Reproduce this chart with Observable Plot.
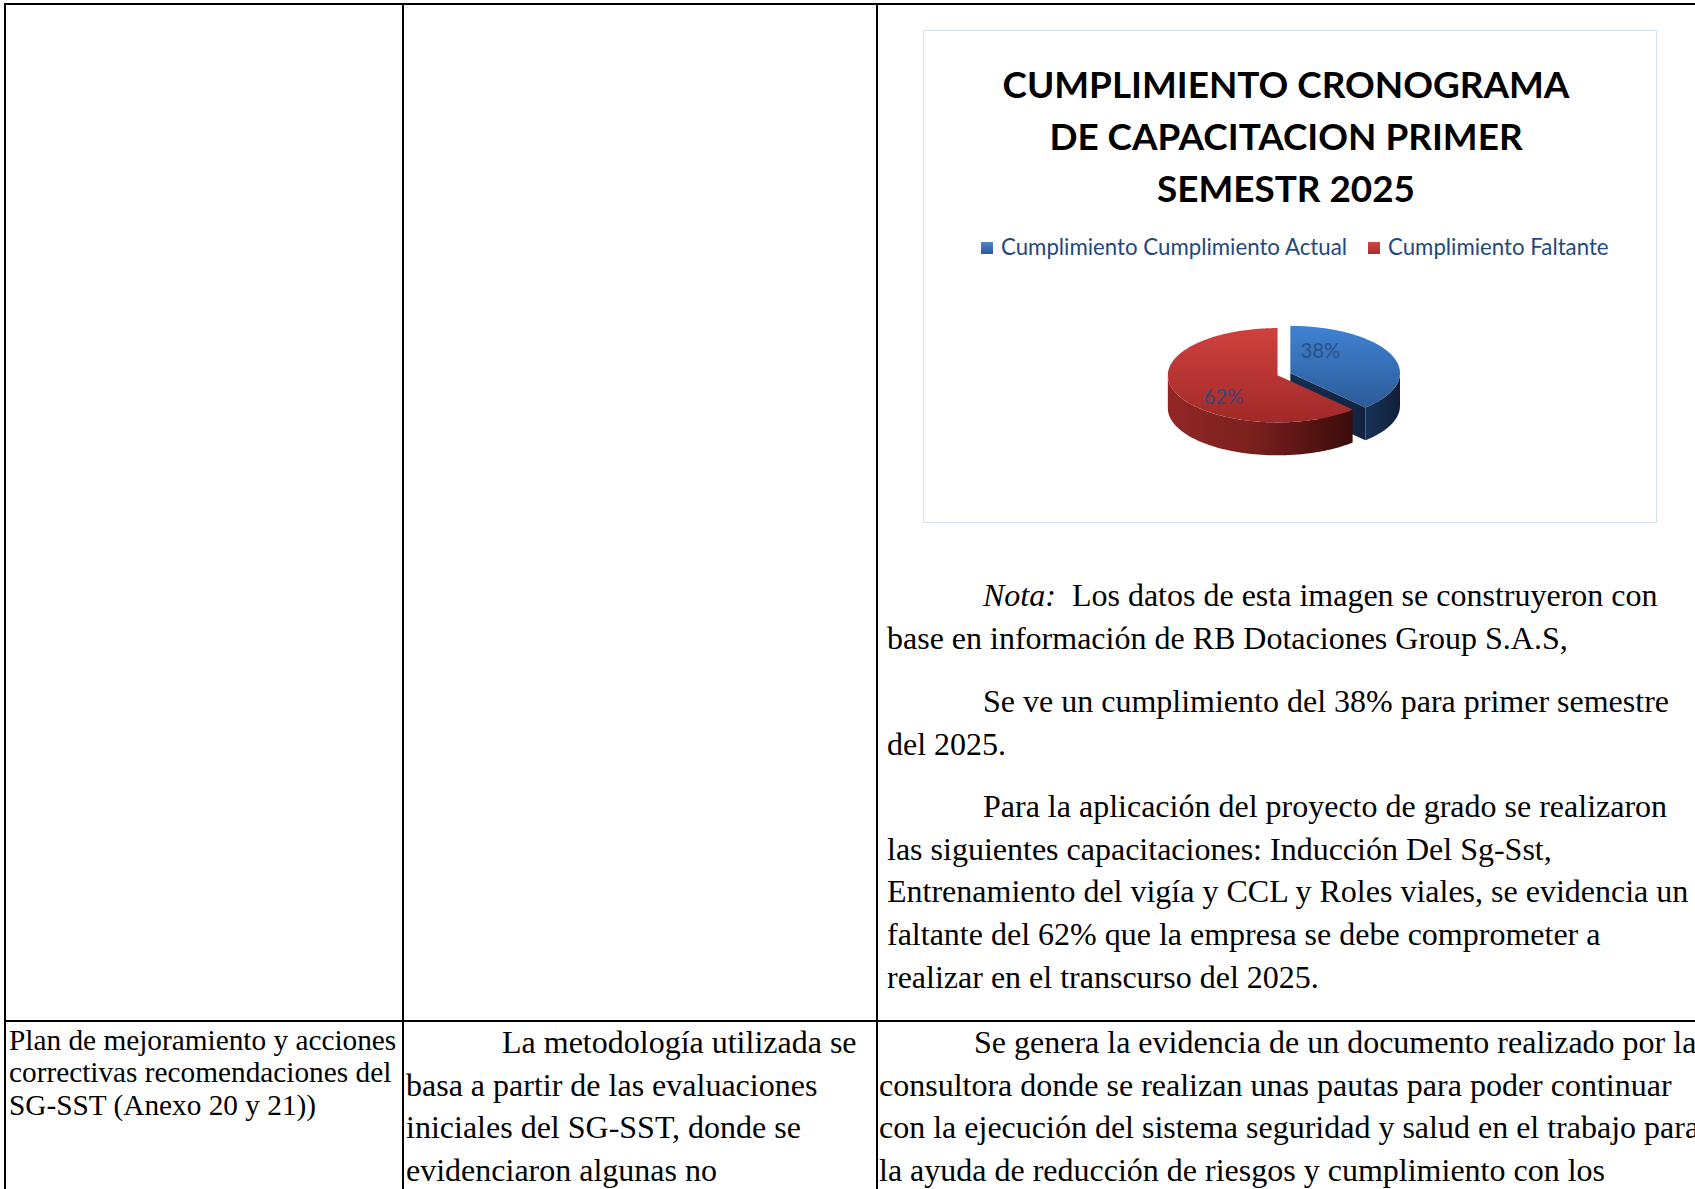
<!DOCTYPE html>
<html>
<head>
<meta charset="utf-8">
<script src="https://cdn.jsdelivr.net/npm/d3@7"></script>
<script src="https://cdn.jsdelivr.net/npm/@observablehq/plot@0.6"></script>
<style>
  html, body { margin: 0; padding: 0; background: #fff; }
  body { width: 1695px; height: 1189px; position: relative; overflow: hidden; }
  .rule { position: absolute; background: #000; }
  .txt { position: absolute; white-space: nowrap; font-family: "Liberation Serif", "Times New Roman", serif; color: #000; }
  #chartbox { position: absolute; left: 923px; top: 30px; width: 732px; height: 491px; border: 1.5px solid #d3e1f2; }
  #title { position: absolute; left: 0; width: 100%; text-align: center; font-family: Lato, sans-serif; font-weight: 700; color: #000; }
  .tline { white-space: nowrap; }
  .leg { position: absolute; white-space: nowrap; font-family: Lato, sans-serif; color: #1f497d; }
  .sw { position: absolute; width: 12px; height: 12px; }
  #pie { position: absolute; }
</style>
</head>
<body>
<div id="page"></div>
<script>
// ---------------- chart data ----------------
const titleLines = ["CUMPLIMIENTO CRONOGRAMA", "DE CAPACITACION PRIMER", "SEMESTR 2025"];
const categories = ["Cumplimiento Cumplimiento Actual", "Cumplimiento Faltante"];
const values = [38, 62];
const valueLabels = ["38%", "62%"];
const explodeBy = [0.125, 0];
const swatchCss = [
  "linear-gradient(#4f86cc, #2c5a94)",
  "linear-gradient(#d24a47, #a12f2c)"
];

// ---------------- document text ----------------
const rightTopParas = [
  ["<i>Nota:</i>&nbsp; Los datos de esta imagen se construyeron con", "base en información de RB Dotaciones Group S.A.S,"],
  ["Se ve un cumplimiento del 38% para primer semestre", "del 2025."],
  ["Para la aplicación del proyecto de grado se realizaron", "las siguientes capacitaciones: Inducción Del Sg-Sst,",
   "Entrenamiento del vigía y CCL y Roles viales, se evidencia un", "faltante del 62% que la empresa se debe comprometer a",
   "realizar en el transcurso del 2025."]
];
const leftBottom = ["Plan de mejoramiento y acciones", "correctivas recomendaciones del", "SG-SST (Anexo 20 y 21))"];
const midBottom = ["La metodología utilizada se", "basa a partir de las evaluaciones", "iniciales del SG-SST, donde se", "evidenciaron algunas no"];
const rightBottom = ["Se genera la evidencia de un documento realizado por la", "consultora donde se realizan unas pautas para poder continuar",
  "con la ejecución del sistema seguridad y salud en el trabajo para", "la ayuda de reducción de riesgos y cumplimiento con los"];

const page = document.getElementById("page");

// table rules
function rule(l, t, w, h) {
  const d = document.createElement("div");
  d.className = "rule";
  Object.assign(d.style, {left: l + "px", top: t + "px", width: w + "px", height: h + "px"});
  page.appendChild(d);
}
rule(4, 3, 1700, 2);
rule(4, 3, 2, 1200);
rule(402, 3, 2, 1200);
rule(876, 3, 2, 1200);
rule(4, 1020, 1700, 2);

// text blocks
function block(lines, left, indent, top, lh, fs) {
  lines.forEach((s, i) => {
    const d = document.createElement("div");
    d.className = "txt";
    d.innerHTML = s;
    Object.assign(d.style, {
      left: (left + (i === 0 ? indent : 0)) + "px",
      top: (top + i * lh) + "px",
      fontSize: fs + "px",
      lineHeight: lh + "px"
    });
    page.appendChild(d);
  });
}
const LH = 42.7, FS = 32;
block(rightTopParas[0], 887, 96, 574, LH, FS);
block(rightTopParas[1], 887, 96, 680, LH, FS);
block(rightTopParas[2], 887, 96, 785, LH, FS);
block(leftBottom, 9, 0, 1024, 32.4, 29.3);
block(midBottom, 406, 96, 1021, LH, FS);
block(rightBottom, 879, 95, 1021, LH, FS);

// ---------------- chart box ----------------
const box = document.createElement("div");
box.id = "chartbox";
page.appendChild(box);
const BX = 923, BY = 30; // box origin on page

function fitSize(text, family, weight, target) {
  const ctx = document.createElement("canvas").getContext("2d");
  ctx.font = `${weight} 100px ${family}`;
  return 100 * target / ctx.measureText(text).width;
}

// title
const tfs = fitSize(titleLines[0], "Lato", 700, 567);
const title = document.createElement("div");
title.id = "title";
title.style.fontSize = tfs + "px";
title.style.lineHeight = "52px";
title.style.top = (84 - 27 - BY) + "px";
title.style.left = "-4px";
title.innerHTML = titleLines.map(s => `<div class="tline">${s}</div>`).join("");
box.appendChild(title);

// legend
const lfs = fitSize(categories[0], "Lato", 400, 347);
const legX = [[980, 1000], [1367, 1387]];
categories.forEach((c, i) => {
  const sw = document.createElement("div");
  sw.className = "sw";
  sw.style.left = (legX[i][0] - BX) + "px";
  sw.style.top = (247 - 6 - BY) + "px";
  sw.style.background = swatchCss[i];
  box.appendChild(sw);
  const t = document.createElement("div");
  t.className = "leg";
  t.textContent = c;
  t.style.fontSize = lfs + "px";
  t.style.lineHeight = "24px";
  t.style.left = (legX[i][1] - BX) + "px";
  t.style.top = (247 - 13 - BY) + "px";
  box.appendChild(t);
});

// ---------------- 3D pie with Plot ----------------
const W = 734, H = 240;         // svg size
const svgTop = 275;             // page y of svg
const R = 110;                  // pixels per pie radius unit
const cxPx = 1277 - BX, cyPx = 374 - svgTop;
const tilt = 0.43, depth = 0.3;

const arcs = d3.pie().sort(null)(values);
const polys = [];
const fillIds = [["top0", "side0", "face0"], ["top1", "side1", "face1"]];
function pt(a, th, r, z) {
  const m = (a.startAngle + a.endAngle) / 2;
  const e = explodeBy[a.index];
  const u = e * Math.sin(m) + r * Math.sin(th);
  const v = e * Math.cos(m) + r * Math.cos(th);
  return {x: u, y: -v * tilt + z * depth};
}
function arcPts(a, t0, t1, z) {
  const n = Math.max(2, Math.ceil((t1 - t0) / 0.02));
  return d3.range(n + 1).map(k => pt(a, t0 + (t1 - t0) * k / n, 1, z));
}
let pid = 0;
function addPoly(pts, fill, layer) {
  const id = pid++;
  const meanY = d3.mean(pts, p => p.y);
  polys.push({id, fill, layer, meanY, pts});
}
arcs.forEach((a, i) => {
  const [topF, sideF, faceF] = fillIds[i];
  // top face
  addPoly([pt(a, 0, 0, 0), ...arcPts(a, a.startAngle, a.endAngle, 0)], `url(#${topF})`, 1);
  // outer side (front half only)
  const s0 = Math.max(a.startAngle, Math.PI / 2), s1 = Math.min(a.endAngle, 3 * Math.PI / 2);
  if (s1 > s0) {
    addPoly([...arcPts(a, s0, s1, 0), ...arcPts(a, s0, s1, 1).reverse()], `url(#${sideF})`, 0);
  }
  // radial faces facing the viewer
  if (Math.sin(a.endAngle) > 1e-6) {
    const t = a.endAngle;
    addPoly([pt(a, 0, 0, 0), pt(a, t, 1, 0), pt(a, t, 1, 1), pt(a, 0, 0, 1)], `url(#${faceF})`, 0);
  }
  if (Math.sin(a.startAngle) < -1e-6) {
    const t = a.startAngle;
    addPoly([pt(a, 0, 0, 0), pt(a, t, 1, 0), pt(a, t, 1, 1), pt(a, 0, 0, 1)], `url(#${faceF})`, 0);
  }
});
polys.sort((p, q) => p.layer - q.layer || p.meanY - q.meanY);
const polyRows = polys.flatMap(p => p.pts.map(q => ({id: p.id, fill: p.fill, x: q.x, y: q.y})));

const labelRows = arcs.map(a => {
  const th = (a.startAngle + a.endAngle) / 2 - 0.5;
  const p = pt(a, th, 0.6, 0);
  return {x: p.x, y: p.y, label: valueLabels[a.index]};
});
const labFs = fitSize("38%", "Lato", 400, 40);

const xDom = [-cxPx / R, (W - cxPx) / R];
const yDom = [-cyPx / R, (H - cyPx) / R];

const chart = Plot.plot({
  width: W, height: H,
  margin: 0,
  x: {domain: xDom, range: [0, W], axis: null},
  y: {domain: yDom, range: [0, H], axis: null},
  color: {type: "identity"},
  style: {background: "transparent", overflow: "visible"},
  marks: [
    Plot.line(polyRows, {x: "x", y: "y", z: "id", fill: "fill", stroke: "none", curve: "linear"}),
    Plot.text(labelRows, {x: "x", y: "y", text: "label", fill: "#2b4d80", fillOpacity: 0.92, fontSize: labFs, fontFamily: "Lato", dx: -12})
  ]
});

// gradients
const defs = `
<defs>
  <linearGradient id="top0" x1="0" y1="0" x2="0" y2="1">
    <stop offset="0" stop-color="#3f82d2"/><stop offset="1" stop-color="#2c5b98"/>
  </linearGradient>
  <linearGradient id="top1" x1="0" y1="0" x2="0" y2="1">
    <stop offset="0" stop-color="#d0413f"/><stop offset="1" stop-color="#a02a28"/>
  </linearGradient>
  <linearGradient id="side0" x1="0" y1="0" x2="1" y2="0">
    <stop offset="0" stop-color="#183359"/><stop offset="1" stop-color="#101f38"/>
  </linearGradient>
  <linearGradient id="face0" x1="0" y1="0" x2="1" y2="0">
    <stop offset="0" stop-color="#162e50"/><stop offset="1" stop-color="#112340"/>
  </linearGradient>
  <linearGradient id="side1" x1="0" y1="0" x2="1" y2="0">
    <stop offset="0" stop-color="#912725"/><stop offset="0.45" stop-color="#7c201e"/><stop offset="1" stop-color="#3a0c0b"/>
  </linearGradient>
  <linearGradient id="face1" x1="0" y1="0" x2="1" y2="0">
    <stop offset="0" stop-color="#7c201e"/><stop offset="1" stop-color="#3a0c0b"/>
  </linearGradient>
</defs>`;
chart.insertAdjacentHTML("afterbegin", defs);
chart.id = "pie";
chart.style.position = "absolute";
chart.style.left = "0px";
chart.style.top = (svgTop - BY) + "px";
box.appendChild(chart);
</script>
</body>
</html>
